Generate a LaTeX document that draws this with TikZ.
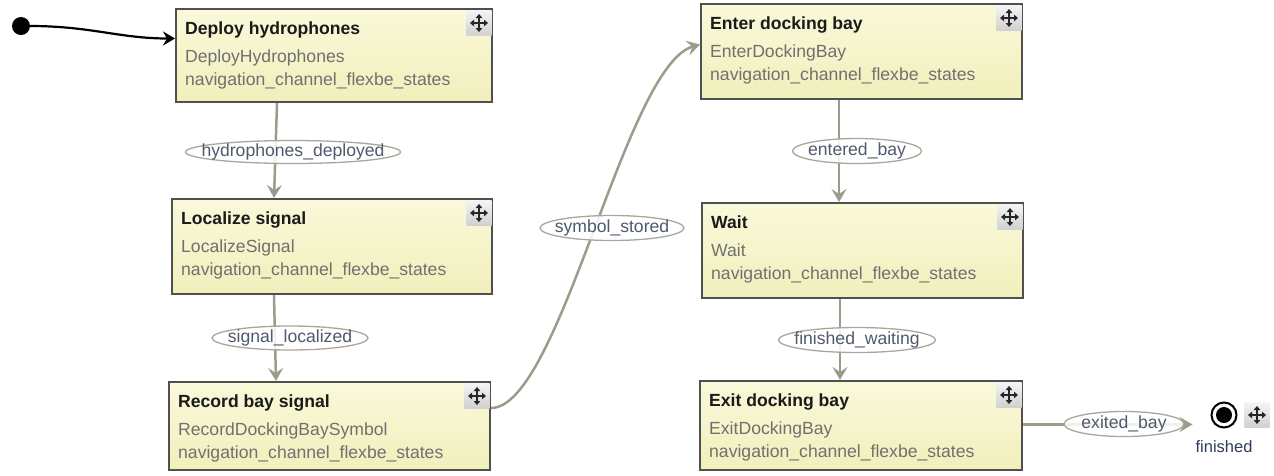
\documentclass[tikz,border=0pt]{standalone}
\usepackage{fontspec}
\setmainfont{Liberation Sans}
\usetikzlibrary{arrows.meta,shapes.geometric,calc}
\definecolor{boxfillA}{HTML}{FAF9DA}
\definecolor{boxfillB}{HTML}{F1EFBB}
\definecolor{boxline}{HTML}{505050}
\definecolor{trgray}{HTML}{9C9C8C}
\definecolor{subgray}{HTML}{707070}
\definecolor{labtext}{HTML}{4F5A6C}
\definecolor{ellline}{HTML}{A8A89A}
\definecolor{iconA}{HTML}{F4F4F4}
\definecolor{iconB}{HTML}{D0D0D0}
\definecolor{titlecol}{HTML}{1A1A1A}
\definecolor{fincol}{HTML}{2E3B5E}

\newcommand\statebox[7]{%
  \pgfmathsetmacro\sbw{#4-#2}%
  \pgfmathsetmacro\sbh{#5-#3}%
  \node[stbox, minimum width=\sbw pt, minimum height=\sbh pt] (#1) at ({(#2+#4)/2},{(#3+#5)/2}) {};
  \node[sttitle] (#1-t) at ([shift={(10,26)}]#1.north west) {#6};
  \node[stclass] (#1-c) at ([shift={(10,54)}]#1.north west) {#7};
  \node[stclass] (#1-p) at ([shift={(10,77)}]#1.north west) {navigation\_channel\_flexbe\_states};
  \node[moveicon] (#1-i) at ([shift={(-14,15)}]#1.north east) {};
  \draw[iconarr] ([xshift=-9pt]#1-i.center) -- ([xshift=9pt]#1-i.center);
  \draw[iconarr] ([yshift=-9pt]#1-i.center) -- ([yshift=9pt]#1-i.center);
}

\begin{document}
\begin{tikzpicture}[x=1pt,y=-1pt,
  stbox/.style={rectangle, draw=boxline, line width=2pt, top color=boxfillA, bottom color=boxfillB, inner sep=0pt},
  sttitle/.style={anchor=base west, inner sep=0pt, font=\fontsize{17.6}{20}\selectfont\bfseries, text=titlecol},
  stclass/.style={anchor=base west, inner sep=0pt, font=\fontsize{17.6}{20}\selectfont, text=subgray},
  moveicon/.style={rectangle, minimum width=25pt, minimum height=25pt, inner sep=0pt, top color=iconA, bottom color=iconB},
  iconarr/.style={line width=1.6pt, black!85, {Triangle[length=4pt,width=6.5pt]}-{Triangle[length=4pt,width=6.5pt]}},
  tr/.style={draw=trgray, line width=2.5pt, -{Stealth[length=13pt,width=15pt,inset=5pt]}},
  trlab/.style={ellipse, draw=ellline, line width=1.3pt, fill=white, fill opacity=0.85, text opacity=1, inner sep=-30pt, font=\fontsize{17.6}{20}\selectfont, text=labtext},
  initdot/.style={circle, fill=black, minimum size=18pt, inner sep=0pt},
  initarr/.style={draw=black, line width=2.2pt, -{Stealth[length=12pt,width=14pt,inset=4pt]}}
]
\useasboundingbox (0,0) rectangle (1274,475);

% states
\statebox{deploy}{176}{9}{492}{102}{Deploy hydrophones}{DeployHydrophones}
\statebox{loc}{172}{199}{492}{294}{Localize signal}{LocalizeSignal}
\statebox{rec}{169}{382}{490}{470}{Record bay signal}{RecordDockingBaySymbol}
\statebox{ent}{701}{4}{1022}{99}{Enter docking bay}{EnterDockingBay}
\statebox{wait}{702}{203}{1023}{298}{Wait}{Wait}
\statebox{exit}{700}{381}{1022}{470}{Exit docking bay}{ExitDockingBay}

% initial state
\node[initdot] (init) at (21,26) {};
\draw[initarr] (init.east) .. controls +(60,0) and +(-55,0) .. ([yshift=17pt]deploy.west);

% final state
\node[circle, draw=black, line width=2pt, fill=white, minimum size=25pt, inner sep=0pt] (final) at (1224,415) {};
\node[circle, fill=black, minimum size=16pt, inner sep=0pt] (final-in) at (final.center) {};
\node[moveicon] (final-i) at (1257,415) {};
\draw[iconarr] ([xshift=-9pt]final-i.center) -- ([xshift=9pt]final-i.center);
\draw[iconarr] ([yshift=-9pt]final-i.center) -- ([yshift=9pt]final-i.center);
\node[anchor=base, inner sep=0pt, font=\fontsize{16.5}{20}\selectfont, text=fincol] (final-t) at (1224,452) {finished};

% transitions
\draw[tr] ([xshift=-57pt]deploy.south) -- ([xshift=-58pt]loc.north);
\draw[tr] ([xshift=-58pt]loc.south) -- ([xshift=-53.5pt]rec.north);
\draw[tr] ([yshift=18pt]rec.east) .. controls +(69,0) and +(-75,21) .. ([yshift=7pt]ent.west);
\draw[tr] ([xshift=-22.5pt]ent.south) -- ([xshift=-23.5pt]wait.north);
\draw[tr] ([xshift=-22.5pt]wait.south) -- ([xshift=-21pt]exit.north);
\draw[tr, shorten >=18pt] ([yshift=1pt]exit.east) -- ([yshift=1pt]exit.east -| final.west);

% transition labels
\node[trlab, minimum width=215pt, minimum height=23pt] (l-hyd) at (293,152) {hydrophones\_deployed};
\node[trlab, minimum width=156pt, minimum height=24pt] (l-sig) at (290,338) {signal\_localized};
\node[trlab, minimum width=144pt, minimum height=25pt] (l-sym) at (612,228) {symbol\_stored};
\node[trlab, minimum width=129pt, minimum height=25pt] (l-ent) at (857,151) {entered\_bay};
\node[trlab, minimum width=157pt, minimum height=25pt] (l-fin) at (857,340) {finished\_waiting};
\node[trlab, minimum width=120pt, minimum height=25pt] (l-exi) at (1124,424) {exited\_bay};
\end{tikzpicture}
\end{document}
